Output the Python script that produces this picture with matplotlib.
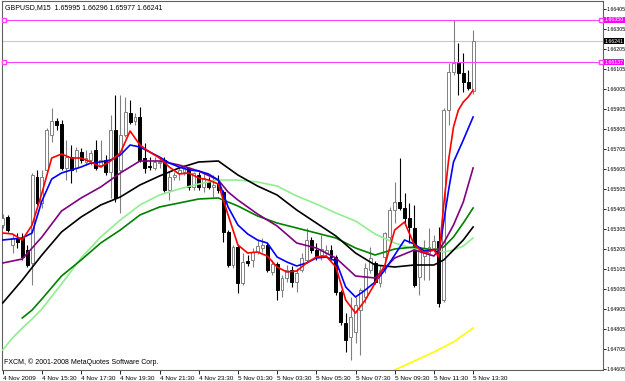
import numpy as np
import matplotlib
matplotlib.use("Agg")
import matplotlib.pyplot as plt
from matplotlib.transforms import blended_transform_factory

plt.rcParams["font.family"] = ["Liberation Sans", "DejaVu Sans"]

# GBPUSD M15, 4 Nov 2009 13:30 .. 5 Nov 2009 13:30 (97 bars)
opens = [1.65323, 1.65363, 1.65223, 1.65258, 1.65258, 1.65198, 1.65133, 1.65563, 1.65433, 1.65598,
         1.65773, 1.65843, 1.65828, 1.65608, 1.65663, 1.65608, 1.65688, 1.65638, 1.65648, 1.65698,
         1.65623, 1.65648, 1.65588, 1.65798, 1.65598, 1.65773, 1.65883, 1.65843, 1.65863, 1.65658,
         1.65618, 1.65608, 1.65633, 1.65648, 1.65498, 1.65563, 1.65583, 1.65588, 1.65608, 1.65513,
         1.65573, 1.65513, 1.65538, 1.65513, 1.65533, 1.65488, 1.65288, 1.65123, 1.65213, 1.65033,
         1.65143, 1.65148, 1.65188, 1.65208, 1.65223, 1.65088, 1.65128, 1.64998, 1.65058, 1.65098,
         1.65038, 1.65098, 1.65148, 1.65248, 1.65198, 1.65173, 1.65183, 1.65198, 1.65163, 1.64988,
         1.64833, 1.64763, 1.64788, 1.64898, 1.64963, 1.65098, 1.65133, 1.65033, 1.65163, 1.65263,
         1.65398, 1.65438, 1.65408, 1.65358, 1.65308, 1.65063, 1.65168, 1.65183, 1.65208, 1.65243,
         1.64948, 1.65898, 1.66088, 1.66138, 1.66083, 1.66038, 1.65995]
highs = [1.65378, 1.65373, 1.65278, 1.65283, 1.65283, 1.65223, 1.65583, 1.65598, 1.65598, 1.65808,
         1.65908, 1.65858, 1.65848, 1.65748, 1.65723, 1.65713, 1.65708, 1.65698, 1.65698, 1.65748,
         1.65748, 1.65673, 1.65873, 1.65973, 1.65973, 1.65963, 1.65948, 1.65883, 1.65913, 1.65733,
         1.65663, 1.65663, 1.65658, 1.65663, 1.65588, 1.65588, 1.65613, 1.65623, 1.65613, 1.65588,
         1.65588, 1.65583, 1.65563, 1.65573, 1.65573, 1.65498, 1.65298, 1.65223, 1.65223, 1.65183,
         1.65173, 1.65208, 1.65248, 1.65258, 1.65233, 1.65148, 1.65138, 1.65073, 1.65123, 1.65118,
         1.65108, 1.65183, 1.65308, 1.65263, 1.65233, 1.65273, 1.65223, 1.65223, 1.65173, 1.64998,
         1.64883, 1.64963, 1.64963, 1.65008, 1.65133, 1.65213, 1.65143, 1.65123, 1.65288, 1.65413,
         1.65538, 1.65658, 1.65483, 1.65433, 1.65423, 1.65213, 1.65248, 1.65308, 1.65273, 1.65313,
         1.65908, 1.66133, 1.66348, 1.66233, 1.66183, 1.66098, 1.66296]
lows = [1.65308, 1.65288, 1.65183, 1.65208, 1.65148, 1.65113, 1.65023, 1.65423, 1.65408, 1.65588,
        1.65738, 1.65798, 1.65598, 1.65548, 1.65533, 1.65588, 1.65633, 1.65623, 1.65623, 1.65598,
        1.65613, 1.65573, 1.65458, 1.65438, 1.65383, 1.65763, 1.65828, 1.65823, 1.65638, 1.65583,
        1.65598, 1.65598, 1.65608, 1.65488, 1.65448, 1.65548, 1.65548, 1.65573, 1.65498, 1.65498,
        1.65498, 1.65488, 1.65503, 1.65463, 1.65483, 1.65238, 1.65113, 1.65108, 1.64983, 1.65023,
        1.65118, 1.65113, 1.65178, 1.65188, 1.65088, 1.65073, 1.64948, 1.64963, 1.65038, 1.65013,
        1.64988, 1.65088, 1.65133, 1.65183, 1.65148, 1.65148, 1.65168, 1.65148, 1.64973, 1.64823,
        1.64688, 1.64648, 1.64733, 1.64673, 1.64933, 1.65083, 1.65028, 1.65013, 1.65083, 1.65248,
        1.65333, 1.65398, 1.65333, 1.65233, 1.65013, 1.64973, 1.65048, 1.65048, 1.65198, 1.64913,
        1.64938, 1.65823, 1.66073, 1.65973, 1.65988, 1.65998, 1.65977]
closes = [1.65358, 1.65298, 1.65258, 1.65238, 1.65163, 1.65123, 1.65573, 1.65433, 1.65563, 1.65798,
          1.65843, 1.65823, 1.65608, 1.65663, 1.65598, 1.65698, 1.65648, 1.65658, 1.65683, 1.65608,
          1.65648, 1.65588, 1.65798, 1.65458, 1.65773, 1.65888, 1.65838, 1.65863, 1.65648, 1.65608,
          1.65613, 1.65638, 1.65638, 1.65498, 1.65563, 1.65573, 1.65598, 1.65608, 1.65513, 1.65583,
          1.65513, 1.65558, 1.65513, 1.65523, 1.65498, 1.65288, 1.65123, 1.65213, 1.65033, 1.65138,
          1.65133, 1.65188, 1.65218, 1.65223, 1.65098, 1.65128, 1.64998, 1.65058, 1.65098, 1.65038,
          1.65083, 1.65158, 1.65248, 1.65198, 1.65163, 1.65203, 1.65198, 1.65163, 1.64988, 1.64838,
          1.64748, 1.64863, 1.64923, 1.64998, 1.65108, 1.65158, 1.65038, 1.65098, 1.65283, 1.65398,
          1.65438, 1.65408, 1.65358, 1.65313, 1.65023, 1.65198, 1.65198, 1.65213, 1.65243, 1.64933,
          1.65898, 1.66088, 1.66133, 1.66083, 1.66038, 1.66008, 1.66241]

# moving averages (bar index, price)
red_bars = [0, 2, 4, 6, 8, 10, 12, 14, 16, 18, 20, 22, 24, 26, 28, 30, 32, 34, 36, 38, 40, 42, 44, 46, 48,
            50, 52, 54, 56, 58, 60, 62, 64, 66, 68, 70, 72, 74, 76, 78, 80, 82, 84, 86, 88, 89, 90, 91,
            92, 93, 94, 95, 96]
red_vals = [1.65283, 1.65278, 1.65248, 1.65323, 1.65483, 1.65658, 1.65678, 1.65658, 1.65658, 1.65638,
            1.65613, 1.65643, 1.65683, 1.65793, 1.65723, 1.65688, 1.65658, 1.65613, 1.65578, 1.65583,
            1.65558, 1.65548, 1.65528, 1.65373, 1.65223, 1.65183, 1.65188, 1.65168, 1.65113, 1.65088,
            1.65093, 1.65133, 1.65163, 1.65168, 1.65113, 1.64948, 1.64883, 1.64948, 1.65033, 1.65123,
            1.65298, 1.65338, 1.65223, 1.65183, 1.65198, 1.65163, 1.65423, 1.65648, 1.65813, 1.65898,
            1.65938, 1.65963, 1.65998]
blue_bars = [0, 2, 4, 6, 8, 10, 12, 14, 16, 18, 20, 22, 24, 26, 28, 30, 32, 34, 36, 38, 40, 42, 44, 46,
             48, 50, 52, 54, 56, 58, 60, 62, 64, 66, 68, 70, 72, 74, 76, 78, 80, 82, 84, 86, 88, 89, 90,
             91, 92, 94, 96]
blue_vals = [1.65248, 1.65253, 1.65258, 1.65283, 1.65443, 1.65553, 1.65583, 1.65598, 1.65613, 1.65633,
             1.65638, 1.65648, 1.65673, 1.65723, 1.65713, 1.65688, 1.65663, 1.65633, 1.65613, 1.65598,
             1.65593, 1.65578, 1.65548, 1.65413, 1.65323, 1.65278, 1.65248, 1.65233, 1.65163, 1.65138,
             1.65118, 1.65133, 1.65158, 1.65163, 1.65143, 1.65013, 1.64963, 1.64998, 1.65038, 1.65098,
             1.65173, 1.65248, 1.65228, 1.65193, 1.65198, 1.65183, 1.65338, 1.65498, 1.65638, 1.65748,
             1.65863]
purple_bars = [0, 4, 8, 12, 16, 20, 24, 28, 32, 36, 40, 44, 46, 48, 52, 56, 60, 64, 68, 72, 76, 80, 84,
               88, 90, 92, 94, 96]
purple_vals = [1.65133, 1.65153, 1.65263, 1.65393, 1.65458, 1.65513, 1.65583, 1.65643, 1.65643, 1.65623,
               1.65593, 1.65548, 1.65488, 1.65448, 1.65378, 1.65318, 1.65233, 1.65208, 1.65158, 1.65068,
               1.65058, 1.65158, 1.65198, 1.65168, 1.65233, 1.65323, 1.65438, 1.65608]
black_bars = [0, 4, 8, 12, 16, 20, 24, 28, 32, 36, 40, 44, 48, 52, 56, 60, 64, 68, 72, 76, 80, 84, 88,
              90, 92, 94, 96]
black_vals = [1.64933, 1.65048, 1.65173, 1.65288, 1.65363, 1.65423, 1.65463, 1.65523, 1.65568, 1.65608,
              1.65638, 1.65643, 1.65573, 1.65518, 1.65473, 1.65398, 1.65333, 1.65268, 1.65183, 1.65123,
              1.65113, 1.65123, 1.65123, 1.65148, 1.65198, 1.65248, 1.65313]
dgreen_bars = [4, 6, 8, 12, 16, 20, 24, 28, 32, 36, 40, 44, 48, 52, 56, 60, 64, 68, 72, 76, 80, 84, 88,
               90, 92, 94, 96]
dgreen_vals = [1.64858, 1.64898, 1.64953, 1.65068, 1.65148, 1.65233, 1.65298, 1.65373, 1.65413, 1.65433,
               1.65453, 1.65458, 1.65418, 1.65368, 1.65333, 1.65308, 1.65283, 1.65258, 1.65208, 1.65173,
               1.65203, 1.65213, 1.65198, 1.65213, 1.65263, 1.65333, 1.65408]
lgreen_bars = [0, 2, 4, 6, 8, 12, 16, 20, 24, 28, 32, 36, 40, 44, 48, 52, 56, 60, 64, 68, 72, 76, 80,
               84, 88, 90, 92, 94, 96]
lgreen_vals = [1.64698, 1.64758, 1.64808, 1.64853, 1.64903, 1.65028, 1.65158, 1.65263, 1.65348, 1.65423,
               1.65473, 1.65503, 1.65528, 1.65548, 1.65548, 1.65538, 1.65518, 1.65468, 1.65428, 1.65383,
               1.65343, 1.65278, 1.65233, 1.65203, 1.65198, 1.65188, 1.65198, 1.65218, 1.65258]
yellow_bars = [79, 80, 84, 88, 92, 96]
yellow_vals = [1.64583, 1.64598, 1.64643, 1.64688, 1.64738, 1.64808]

hlines = [1.66350, 1.66137]
xlabels = ["4 Nov 2009", "4 Nov 15:30", "4 Nov 17:30", "4 Nov 19:30", "4 Nov 21:30", "4 Nov 23:30",
           "5 Nov 01:30", "5 Nov 03:30", "5 Nov 05:30", "5 Nov 07:30", "5 Nov 09:30", "5 Nov 11:30",
           "5 Nov 13:30"]
yticks = [1.66405 - 0.001 * k for k in range(19)]

W, H = 625, 381
fig = plt.figure(figsize=(W / 100, H / 100), dpi=100)
ax = fig.add_axes([2 / W, (H - 370) / H, 601 / W, 369 / H])

bars = np.arange(len(opens))
o, h, l, c = map(np.array, (opens, highs, lows, closes))
up = c >= o
gray = "#808080"

# wicks
ax.vlines(bars[up], l[up], h[up], color=gray, lw=0.8, zorder=2)
ax.vlines(bars[~up], l[~up], h[~up], color="black", lw=0.8, zorder=2)
# bodies
ax.bar(bars[up], c[up] - o[up], bottom=o[up], width=0.6, color="white", edgecolor=gray, lw=0.7, zorder=3)
ax.bar(bars[~up], o[~up] - c[~up], bottom=c[~up], width=0.6, color="black", edgecolor="black", lw=0.7, zorder=3)

lines = [(yellow_bars, yellow_vals, "#ffff00"), (lgreen_bars, lgreen_vals, "#90ee90"),
         (dgreen_bars, dgreen_vals, "#008000"), (black_bars, black_vals, "black"),
         (purple_bars, purple_vals, "#800080"), (blue_bars, blue_vals, "#0000ff"),
         (red_bars, red_vals, "#ff0000")]
for xs, ys, col in lines:
    ax.plot(xs, ys, color=col, lw=1.2, zorder=4, solid_joinstyle="round")

ax.set_xlim((2 - 2.7) / 4.9, (603 - 2.7) / 4.9)
ax.set_ylim(1.66448 - 370 * 0.00005, 1.66448 - 1 * 0.00005)

trans = blended_transform_factory(ax.transAxes, ax.transData)
for v in hlines:
    ax.axhline(v, color="#ff40ff", lw=0.8, zorder=5)
    ax.plot([0.003, 0.997], [v, v], ls="none", marker="s", ms=3, mfc="white", mec="#ff40ff",
            transform=trans, zorder=6, clip_on=False)
    ax.text(1.003, v, f"{v:.5f}", transform=trans, fontsize=3.8, color="white", va="center", ha="left",
            bbox=dict(boxstyle="square,pad=0.1", fc="#ff00ff", ec="none"), zorder=7, clip_on=False)
ax.axhline(closes[-1], color="#c8c8c8", lw=0.8, zorder=1)
ax.text(1.003, closes[-1], f"{closes[-1]:.5f}", transform=trans, fontsize=3.8, color="white", va="center",
        ha="left", bbox=dict(boxstyle="square,pad=0.1", fc="black", ec="none"), zorder=7, clip_on=False)

ax.yaxis.tick_right()
ax.set_yticks(yticks)
ax.set_yticklabels([f"{v:.5f}" for v in yticks])
ax.tick_params(axis="y", length=2, width=0.6, pad=0.5, labelsize=3.8, colors="black")
ax.set_xticks(bars[::8])
ax.set_xticklabels(xlabels, ha="left")
ax.tick_params(axis="x", length=3, width=0.6, pad=1, labelsize=4.6)

for s in ax.spines.values():
    s.set_color("#606060")
    s.set_linewidth(0.8)

fig.text(5 / W, 1 - 8 / H, "GBPUSD,M15  1.65995 1.66296 1.65977 1.66241", fontsize=5, va="center")
ax.text(2 / 601, 8 / 369, "FXCM, © 2001-2008 MetaQuotes Software Corp.", transform=ax.transAxes,
        fontsize=5, va="center")

fig.savefig("out.png", dpi=100)
